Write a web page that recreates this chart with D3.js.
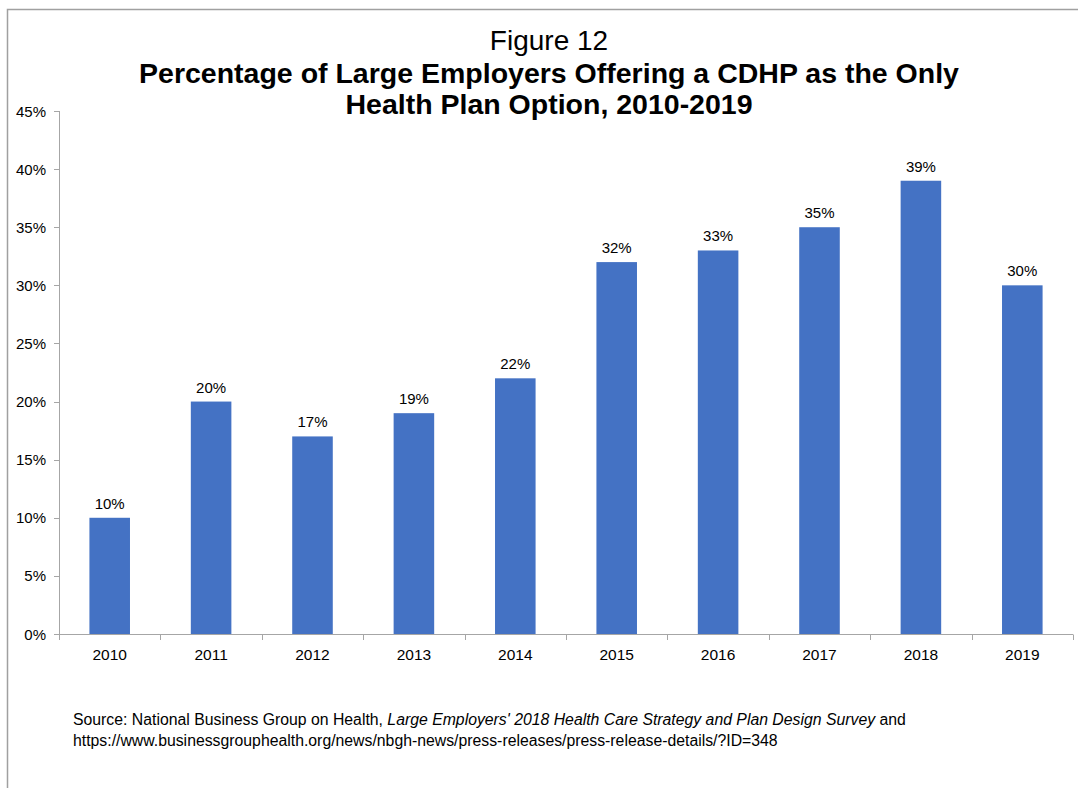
<!DOCTYPE html>
<html><head><meta charset="utf-8">
<script src="https://cdn.jsdelivr.net/npm/d3@7"></script>
<style>body{margin:0;background:#fff;}svg{display:block;font-family:"Liberation Sans",Arial,sans-serif;}</style>
</head><body>
<script>
const years = ["2010","2011","2012","2013","2014","2015","2016","2017","2018","2019"];
const values = [10,20,17,19,22,32,33,35,39,30];
const yTicks = [0,5,10,15,20,25,30,35,40,45];

const W = 1078, H = 788;
const svg = d3.select("body").append("svg").attr("width", W).attr("height", H);
svg.append("rect").attr("x",7.5).attr("y",9.5).attr("width",W+10).attr("height",H+10)
  .attr("fill","#fff").attr("stroke","#a0a0a0").attr("stroke-width",1.5);

const x = d3.scaleBand().domain(years).range([59,1073]).paddingInner(0.6).paddingOuter(0.3);
const xb = d3.scaleBand().domain(years).range([59,1073]);
const y = d3.scaleLinear().domain([0,45]).range([634,111]);

const axisColor = "#a6a6a6";
// y axis
svg.append("line").attr("x1",59.5).attr("x2",59.5).attr("y1",y(45)).attr("y2",y(0)).attr("stroke",axisColor);
yTicks.forEach(t=>{
  svg.append("line").attr("x1",54).attr("x2",59.5).attr("y1",Math.round(y(t))+0.5).attr("y2",Math.round(y(t))+0.5).attr("stroke",axisColor);
  svg.append("text").attr("x",46).attr("y",y(t)+5.5).attr("text-anchor","end").attr("font-size",15).attr("fill","#000").text(t+"%");
});
// bars
svg.selectAll(".bar").data(values).enter().append("rect")
  .attr("x",(d,i)=>x(years[i])).attr("width",x.bandwidth())
  .attr("y",d=>y(d)).attr("height",d=>y(0)-y(d)).attr("fill","#4472c4");
// x axis
svg.append("line").attr("x1",59).attr("x2",1073).attr("y1",634.5).attr("y2",634.5).attr("stroke",axisColor);
years.concat(["end"]).forEach((yr,i)=>{
  const xx = i<years.length ? xb(yr) : xb.range()[1];
  svg.append("line").attr("x1",Math.round(xx)+0.5).attr("x2",Math.round(xx)+0.5).attr("y1",634.5).attr("y2",640).attr("stroke",axisColor);
});
years.forEach(yr=>{
  svg.append("text").attr("x",xb(yr)+xb.bandwidth()/2).attr("y",660).attr("text-anchor","middle").attr("font-size",15.5).attr("fill","#000").text(yr);
});
// data labels
values.forEach((v,i)=>{
  svg.append("text").attr("x",x(years[i])+x.bandwidth()/2).attr("y",y(v)-9).attr("text-anchor","middle").attr("font-size",15).attr("fill","#000").text(v+"%");
});
// title
svg.append("text").attr("x",549).attr("y",50).attr("text-anchor","middle").attr("font-size",28).text("Figure 12");
svg.append("text").attr("x",549).attr("y",83).attr("text-anchor","middle").attr("font-size",28.5).attr("font-weight","bold").text("Percentage of Large Employers Offering a CDHP as the Only");
svg.append("text").attr("x",549).attr("y",114).attr("text-anchor","middle").attr("font-size",28.5).attr("font-weight","bold").text("Health Plan Option, 2010-2019");
// source
const s = svg.append("text").attr("x",73).attr("y",725).attr("font-size",15.8);
s.append("tspan").text("Source: National Business Group on Health, ");
s.append("tspan").attr("font-style","italic").text("Large Employers' 2018 Health Care Strategy and Plan Design Survey");
s.append("tspan").text(" and");
svg.append("text").attr("x",73).attr("y",746).attr("font-size",15.8).text("https://www.businessgrouphealth.org/news/nbgh-news/press-releases/press-release-details/?ID=348");
</script>
</body></html>
